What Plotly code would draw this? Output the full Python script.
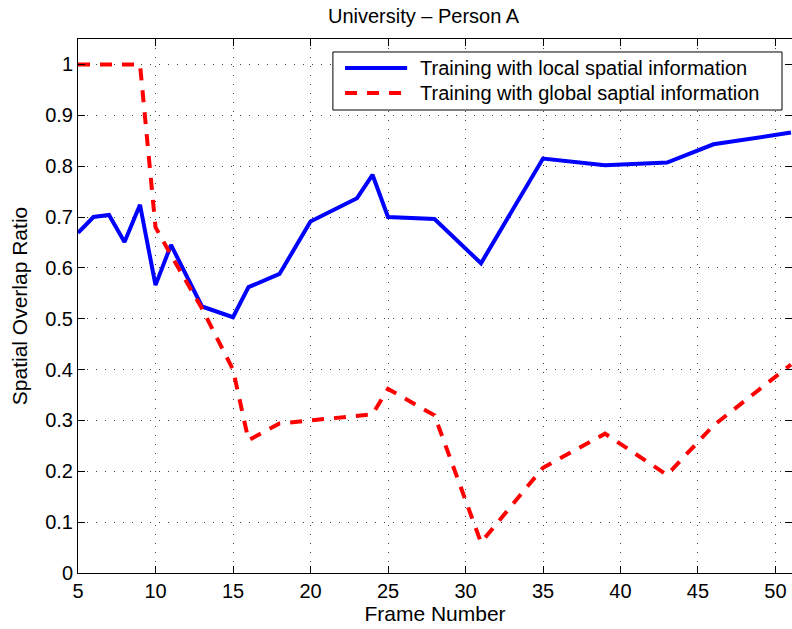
import plotly.graph_objects as go

# Frame indices and overlap ratios for the two training variants
local_frames = [5, 6, 7, 8, 9, 10, 11, 13, 15, 16, 18, 20, 23, 24, 25, 28, 31, 35, 39, 43, 46, 51]
local_ratio = [0.669, 0.700, 0.704, 0.651, 0.724, 0.566, 0.645, 0.524, 0.503, 0.562, 0.588,
               0.691, 0.737, 0.783, 0.700, 0.696, 0.609, 0.815, 0.802, 0.807, 0.843, 0.866]

global_frames = [5, 6, 7, 8, 9, 10, 11, 13, 15, 16, 18, 20, 23, 24, 25, 28, 31, 35, 39, 43, 46, 51]
global_ratio = [1.0, 1.0, 1.0, 1.0, 1.0, 0.680, 0.625, 0.520, 0.400, 0.261, 0.294,
                0.300, 0.308, 0.312, 0.362, 0.310, 0.060, 0.207, 0.274, 0.193, 0.290, 0.410]

series_names = ["Training with local spatial information",
                "Training with global saptial information"]

x_ticks = [5, 10, 15, 20, 25, 30, 35, 40, 45, 50]
y_ticks = [0, 0.1, 0.2, 0.3, 0.4, 0.5, 0.6, 0.7, 0.8, 0.9, 1.0]
y_tick_text = ["0", "0.1", "0.2", "0.3", "0.4", "0.5", "0.6", "0.7", "0.8", "0.9", "1"]

FONT = "Liberation Sans, Arial, Helvetica, sans-serif"
BLUE = "#0000FF"
RED = "#FF0000"
RED_DASH = "12px,10px"

fig = go.Figure()
fig.add_trace(go.Scatter(
    x=local_frames, y=local_ratio, mode="lines", name=series_names[0],
    line=dict(color=BLUE, width=4),
))
fig.add_trace(go.Scatter(
    x=global_frames, y=global_ratio, mode="lines", name=series_names[1],
    line=dict(color=RED, width=4, dash=RED_DASH),
))

axis_common = dict(
    showline=True, linecolor="black", linewidth=1, mirror="ticks",
    ticks="inside", ticklen=7, tickcolor="black", tickwidth=1,
    showgrid=True, gridcolor="#444444", gridwidth=1, griddash="1px,8px",
    zeroline=False,
    tickfont=dict(family=FONT, size=20, color="black"),
)

fig.update_xaxes(
    range=[5, 51.065], tickvals=x_ticks,
    title=dict(text="Frame Number", font=dict(family=FONT, size=21, color="black"), standoff=2),
    **axis_common,
)
fig.update_yaxes(
    range=[0, 1.05], tickvals=y_ticks, ticktext=y_tick_text,
    title=dict(text="Spatial Overlap Ratio", font=dict(family=FONT, size=21, color="black"), standoff=11),
    **axis_common,
)

# Boxed legend in the upper right of the axes (paper coordinates)
box_x0, box_x1 = 0.357, 0.986
box_y0, box_y1 = 0.867, 0.9757
sample_x0, sample_x1 = 0.374, 0.461
text_x = 0.476
row_y = [0.9457, 0.8989]

shapes = [dict(type="rect", xref="paper", yref="paper",
               x0=box_x0, x1=box_x1, y0=box_y0, y1=box_y1,
               line=dict(color="black", width=1), fillcolor="white", layer="above")]
shapes.append(dict(type="line", xref="paper", yref="paper",
                   x0=sample_x0, x1=sample_x1, y0=row_y[0], y1=row_y[0],
                   line=dict(color=BLUE, width=4), layer="above"))
shapes.append(dict(type="line", xref="paper", yref="paper",
                   x0=sample_x0, x1=sample_x1, y0=row_y[1], y1=row_y[1],
                   line=dict(color=RED, width=4, dash=RED_DASH), layer="above"))

annotations = [dict(text=name, xref="paper", yref="paper", x=text_x, y=yy,
                    xanchor="left", yanchor="middle", showarrow=False,
                    font=dict(family=FONT, size=20, color="black"))
               for name, yy in zip(series_names, row_y)]

fig.update_layout(
    width=792, height=629,
    margin=dict(l=78, r=0, t=39, b=56),
    paper_bgcolor="white", plot_bgcolor="white",
    title=dict(text="University \u2013 Person A", xref="paper", x=0.484, xanchor="center",
               y=1 - 16 / 629, yanchor="middle",
               font=dict(family=FONT, size=20, color="black")),
    showlegend=False,
    shapes=shapes,
    annotations=annotations,
)

fig.write_html("out.html")
